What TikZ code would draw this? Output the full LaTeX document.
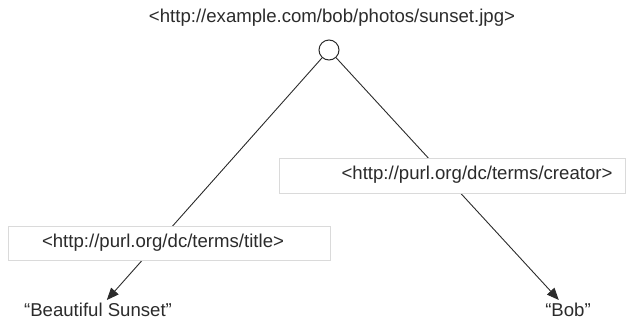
\documentclass[tikz,border=0pt]{standalone}
\usepackage{fontspec}
\setmainfont{Liberation Sans}
\usepackage{tikz}
\usetikzlibrary{arrows.meta}
\usepackage{xcolor}

\definecolor{ink}{HTML}{2B2B2B}
\definecolor{boxline}{HTML}{DADADA}

\begin{document}
\begin{tikzpicture}[x=1pt,y=-1pt,>={Triangle[length=12pt,width=10pt]},line cap=round,
  every node/.style={font=\fontsize{18.6}{22}\selectfont,text=ink},
  res/.style={circle,draw=ink,fill=white,line width=1pt,minimum size=20pt,inner sep=0pt},
  lit/.style={inner sep=3pt},
  prop/.style={draw=boxline,fill=white}]
\useasboundingbox (0,0) rectangle (627,322);
% subject and its two literal objects
\node (subjtxt) at (332,18) {<http://example.com/bob/photos/sunset.jpg>};
\node[res] (subj) at (329,50) {};
\node[lit] (title) at (98,310) {“Beautiful Sunset"};
\node[lit] (bob) at (568,310) {“Bob"};
\draw[ink,line width=0.9pt,->] (subj) -- (title);
\draw[ink,line width=0.9pt,->] (subj) -- (bob);
% predicate labels sit on top of the edges
\draw[prop] (8,226) rectangle (330,260);
\node (dctitle) at (163,243) {<http://purl.org/dc/terms/title>};
\draw[prop] (279,158) rectangle (625,193);
\node (dccreator) at (477,175) {<http://purl.org/dc/terms/creator>};
\end{tikzpicture}
\end{document}
